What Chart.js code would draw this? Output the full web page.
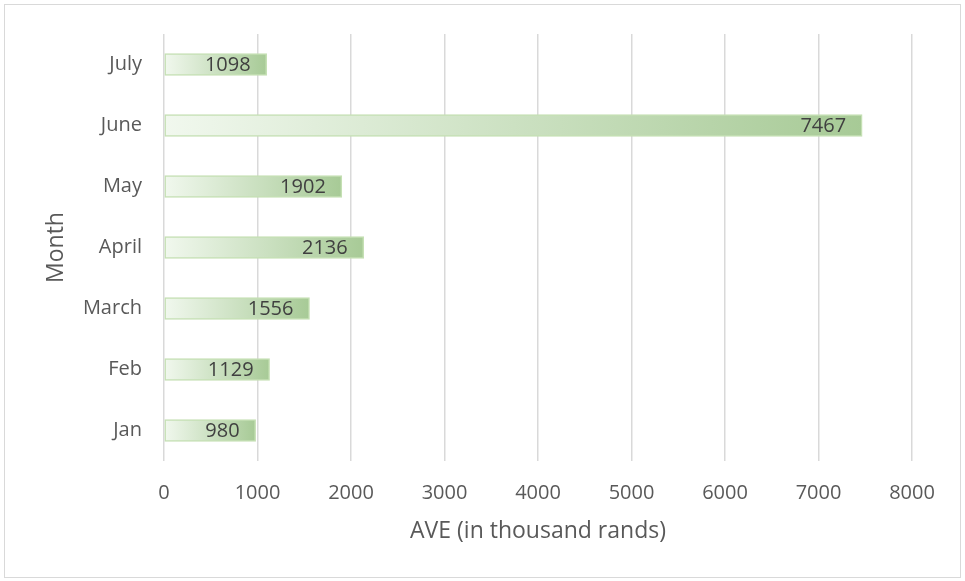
<!DOCTYPE html>
<html>
<head>
<meta charset="utf-8">
<script src="https://cdn.jsdelivr.net/npm/chart.js@4"></script>
<style>
  html, body { margin: 0; padding: 0; background: #fff; }
  #wrap { width: 965px; height: 581px; position: relative; }
</style>
</head>
<body>
<div id="wrap"><canvas id="aveChart"></canvas></div>
<script>
const months = ["Jan", "Feb", "March", "April", "May", "June", "July"];
const aveValues = [980, 1129, 1556, 2136, 1902, 7467, 1098];
const xTicks = [0, 1000, 2000, 3000, 4000, 5000, 6000, 7000, 8000];

const fontFamily = "'Open Sans', 'Liberation Sans', sans-serif";

// each bar fades from pale to darker green along its own length
function barGradient(ctx) {
  const chart = ctx.chart;
  if (!chart.chartArea || ctx.raw === undefined) return "#c5e0b4";
  const xScale = chart.scales.x;
  const x0 = xScale.getPixelForValue(0);
  const x1 = xScale.getPixelForValue(ctx.raw);
  const g = chart.ctx.createLinearGradient(x0, 0, x1, 0);
  g.addColorStop(0, "#f1f8ee");
  g.addColorStop(1, "#a7ca96");
  return g;
}

const frame = {
  id: "frame",
  beforeDraw(chart) {
    const c = chart.ctx;
    c.save();
    c.fillStyle = "#fff";
    c.fillRect(0, 0, chart.width, chart.height);
    c.strokeStyle = "#d9d9d9";
    c.lineWidth = 1;
    c.strokeRect(4.5, 4.5, chart.width - 9, chart.height - 8);
    c.restore();
  }
};

const valueLabels = {
  id: "valueLabels",
  afterDatasetsDraw(chart) {
    const c = chart.ctx;
    const meta = chart.getDatasetMeta(0);
    c.save();
    c.font = "20px " + fontFamily;
    c.fillStyle = "#404040";
    c.textAlign = "right";
    c.textBaseline = "middle";
    meta.data.forEach((bar, i) => {
      c.fillText(String(aveValues[i]), bar.x - 16, bar.y + 1);
    });
    c.restore();
  }
};

new Chart(document.getElementById("aveChart"), {
  type: "bar",
  data: {
    labels: months,
    datasets: [{
      data: aveValues,
      backgroundColor: barGradient,
      borderColor: "#c5e0b4",
      borderWidth: 1.5,
      borderSkipped: false,
      barThickness: 22
    }]
  },
  options: {
    indexAxis: "y",
    responsive: true,
    maintainAspectRatio: false,
    animation: false,
    layout: { padding: { top: 34, right: 53, left: 0, bottom: 0 } },
    plugins: {
      legend: { display: false },
      tooltip: { enabled: false }
    },
    scales: {
      x: {
        min: 0,
        max: 8000,
        afterFit: (s) => { s.height = 120; },
        afterBuildTicks: (s) => { s.ticks = xTicks.map((v) => ({ value: v })); },
        grid: { color: "#d9d9d9", lineWidth: 1.5, drawTicks: false },
        border: { display: false },
        ticks: {
          color: "#595959",
          padding: 20,
          font: { family: fontFamily, size: 20 },
          callback: (v) => String(v)
        },
        title: {
          display: true,
          text: "AVE (in thousand rands)",
          color: "#595959",
          font: { family: fontFamily, size: 23 },
          padding: { top: 0, bottom: 36 }
        }
      },
      y: {
        reverse: true,
        afterFit: (s) => { s.width = 164; },
        grid: { display: false },
        border: { display: false },
        ticks: {
          color: "#595959",
          padding: 14,
          font: { family: fontFamily, size: 20 }
        },
        title: {
          display: true,
          text: "Month",
          color: "#595959",
          font: { family: fontFamily, size: 23 },
          padding: { top: 43, bottom: 0 }
        }
      }
    }
  },
  plugins: [frame, valueLabels]
});
</script>
</body>
</html>
